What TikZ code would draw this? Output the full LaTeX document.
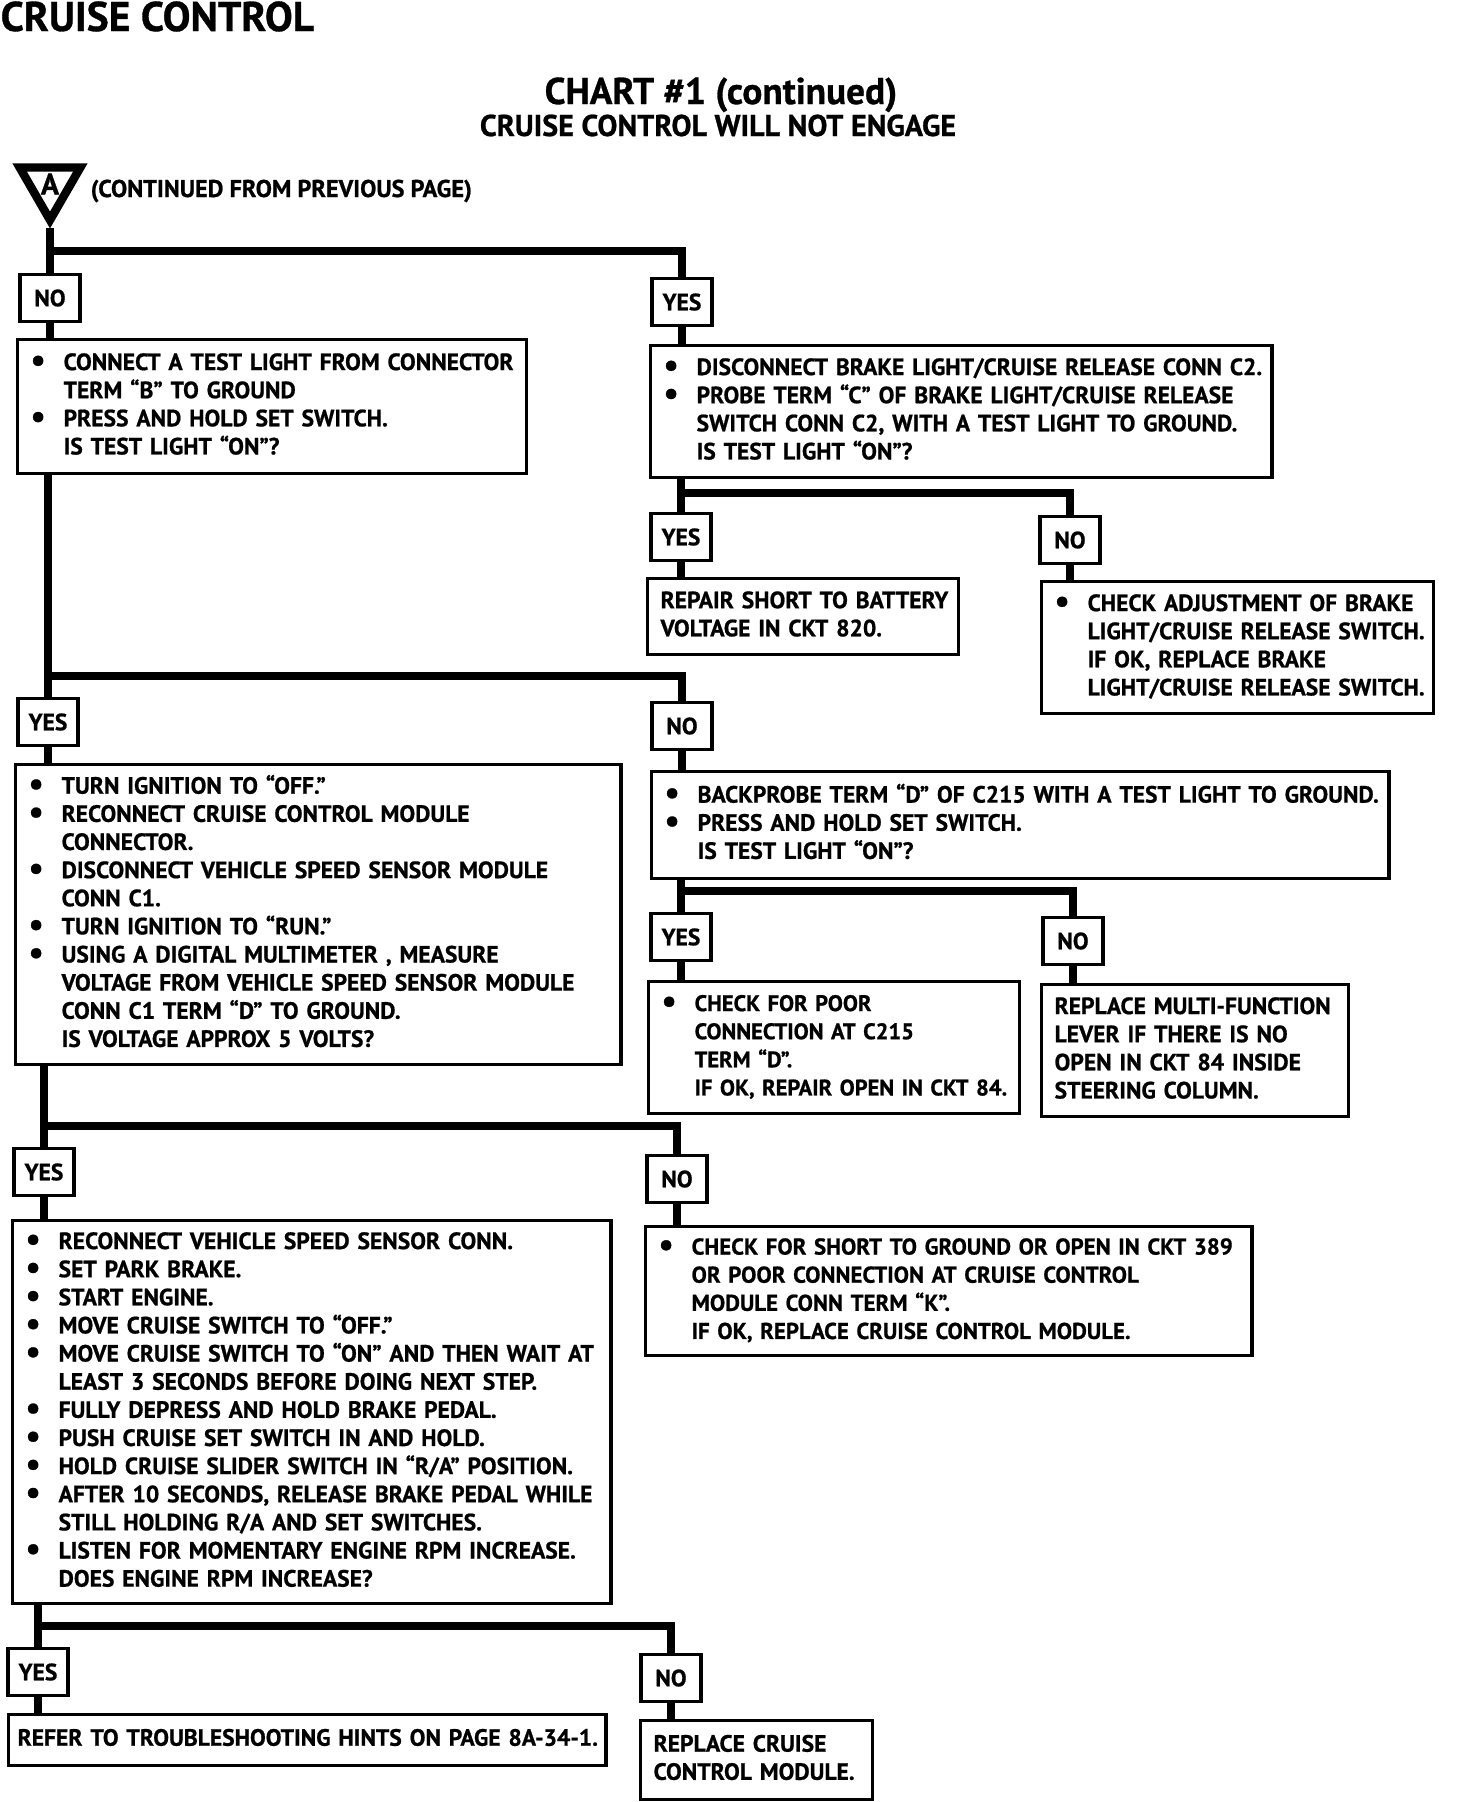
\documentclass[tikz,border=0pt]{standalone}
\usepackage{fontspec}
\setmainfont{PT Sans}[BoldFeatures={FakeBold=0.8}]
\usetikzlibrary{shapes.geometric}

\newcommand{\bul}{\raisebox{-0.1ex}{\fontsize{9.5}{8}\selectfont\textbullet}}
\newcommand{\steps}[1]{\noindent\begin{tabular}{@{}p{0.33cm}@{}l@{}}#1\end{tabular}}
\newcommand{\lines}[1]{\noindent\begin{tabular}{@{}l@{}}#1\end{tabular}}

\begin{document}
\begin{tikzpicture}[x=0.01cm,y=-0.01cm,
  every node/.style={font=\bfseries\fontsize{6.7}{8}\selectfont},
  chk/.style n args={2}{draw,line width=0.9pt,anchor=north west,inner xsep=0.13cm,inner ysep=0pt,align=left,text width=#1,minimum height=#2},
  ans/.style={draw,line width=0.9pt,minimum width=0.6cm,minimum height=0.47cm,inner sep=1pt},
  flow/.style={line width=2.2pt},
  head/.style={inner sep=0pt}]
  \useasboundingbox (0,0) rectangle (1456,1802);

  % headings
  \node[head,anchor=base west,font=\bfseries\fontsize{11.8}{12}\selectfont] (sect) at (0,31) {CRUISE CONTROL};
  \node[head,anchor=base,font=\bfseries\fontsize{10.6}{12}\selectfont] (chart) at (721,104) {CHART \#1 (continued)};
  \node[head,anchor=base,font=\bfseries\fontsize{8.55}{10}\selectfont] (chartsub) at (718,136) {CRUISE CONTROL WILL NOT ENGAGE};

  % entry marker
  \node[regular polygon,regular polygon sides=3,shape border rotate=180,draw,line width=2.4pt,minimum size=0.7cm,inner sep=0pt] (entry) at (50,185) {};
  \node[head,font=\bfseries\fontsize{8.5}{8}\selectfont] (entrylbl) at (50,184) {A};
  \node[head,anchor=base west,font=\bfseries\fontsize{6.9}{8}\selectfont] (cont) at (90,197) {(CONTINUED FROM PREVIOUS PAGE)};

  % answer labels
  \node[ans] (no1) at (50,298) {NO};
  \node[ans] (yes1) at (682,302) {YES};
  \node[ans] (yes1a) at (681,537) {YES};
  \node[ans] (no1a) at (1070,540) {NO};
  \node[ans] (yes2) at (48,722) {YES};
  \node[ans] (no2) at (682,726) {NO};
  \node[ans] (yes2a) at (681,937) {YES};
  \node[ans] (no2a) at (1073,941) {NO};
  \node[ans] (yes3) at (44,1172) {YES};
  \node[ans] (no3) at (677,1179) {NO};
  \node[ans] (yes4) at (38,1672) {YES};
  \node[ans] (no4) at (671,1678) {NO};

  % test and repair boxes
  \node[chk={4.83cm}{1.34cm}] (check1) at (16,338) {\steps{\bul & CONNECT A TEST LIGHT FROM CONNECTOR\\ & TERM “B” TO GROUND\\ \bul & PRESS AND HOLD SET SWITCH.\\ & IS TEST LIGHT “ON”?}};
  \node[chk={5.95cm}{1.32cm}] (check2) at (649,344) {\steps{\bul & DISCONNECT BRAKE LIGHT/CRUISE RELEASE CONN C2.\\ \bul & PROBE TERM “C” OF BRAKE LIGHT/CRUISE RELEASE\\ & SWITCH CONN C2, WITH A TEST LIGHT TO GROUND.\\ & IS TEST LIGHT “ON”?}};
  \node[chk={2.85cm}{0.76cm}] (repair) at (646,577) {\lines{REPAIR SHORT TO BATTERY\\ VOLTAGE IN CKT 820.}};
  \node[chk={3.66cm}{1.32cm}] (adjust) at (1040,580) {\steps{\bul & CHECK ADJUSTMENT OF BRAKE\\ & LIGHT/CRUISE RELEASE SWITCH.\\ & IF OK, REPLACE BRAKE\\ & LIGHT/CRUISE RELEASE SWITCH.}};
  \node[chk={5.79cm}{3.00cm}] (check3) at (14,763) {\steps{\bul & TURN IGNITION TO “OFF.”\\ \bul & RECONNECT CRUISE CONTROL MODULE\\ & CONNECTOR.\\ \bul & DISCONNECT VEHICLE SPEED SENSOR MODULE\\ & CONN C1.\\ \bul & TURN IGNITION TO “RUN.”\\ \bul & USING A DIGITAL MULTIMETER , MEASURE\\ & VOLTAGE FROM VEHICLE SPEED SENSOR MODULE\\ & CONN C1 TERM “D” TO GROUND.\\ & IS VOLTAGE APPROX 5 VOLTS?}};
  \node[chk={7.11cm}{1.07cm}] (check4) at (650,770) {\steps{\bul & BACKPROBE TERM “D” OF C215 WITH A TEST LIGHT TO GROUND.\\ \bul & PRESS AND HOLD SET SWITCH.\\ & IS TEST LIGHT “ON”?}};
  \node[chk={3.45cm}{1.32cm},font=\bfseries\fontsize{6.4}{8}\selectfont] (poor) at (647,980) {\steps{\bul & CHECK FOR POOR\\ & CONNECTION AT C215\\ & TERM “D”.\\ & IF OK, REPAIR OPEN IN CKT 84.}};
  \node[chk={2.81cm}{1.32cm}] (lever) at (1040,983) {\lines{REPLACE MULTI-FUNCTION\\ LEVER IF THERE IS NO\\ OPEN IN CKT 84 INSIDE\\ STEERING COLUMN.}};
  \node[chk={5.72cm}{3.83cm}] (check5) at (11,1219) {\steps{\bul & RECONNECT VEHICLE SPEED SENSOR CONN.\\ \bul & SET PARK BRAKE.\\ \bul & START ENGINE.\\ \bul & MOVE CRUISE SWITCH TO “OFF.”\\ \bul & MOVE CRUISE SWITCH TO “ON” AND THEN WAIT AT\\ & LEAST 3 SECONDS BEFORE DOING NEXT STEP.\\ \bul & FULLY DEPRESS AND HOLD BRAKE PEDAL.\\ \bul & PUSH CRUISE SET SWITCH IN AND HOLD.\\ \bul & HOLD CRUISE SLIDER SWITCH IN “R/A” POSITION.\\ \bul & AFTER 10 SECONDS, RELEASE BRAKE PEDAL WHILE\\ & STILL HOLDING R/A AND SET SWITCHES.\\ \bul & LISTEN FOR MOMENTARY ENGINE RPM INCREASE.\\ & DOES ENGINE RPM INCREASE?}};
  \node[chk={5.80cm}{1.29cm},font=\bfseries\fontsize{6.5}{8}\selectfont] (short) at (644,1225) {\steps{\bul & CHECK FOR SHORT TO GROUND OR OPEN IN CKT 389\\ & OR POOR CONNECTION AT CRUISE CONTROL\\ & MODULE CONN TERM “K”.\\ & IF OK, REPLACE CRUISE CONTROL MODULE.}};
  \node[chk={5.79cm}{0.51cm},inner xsep=0.09cm] (hints) at (7,1713) {\lines{REFER TO TROUBLESHOOTING HINTS ON PAGE 8A-34-1.}};
  \node[chk={2.06cm}{0.79cm}] (module) at (639,1719) {\lines{REPLACE CRUISE\\ CONTROL MODULE.}};

  % junctions
  \coordinate (j1) at (50,251);
  \coordinate (j1a) at (681,493);
  \coordinate (j2) at (48,676);
  \coordinate (j2a) at (681,891);
  \coordinate (j3) at (44,1126);
  \coordinate (j4) at (38,1626);

  % connectors
  \draw[flow] (entry.south) -- (no1.north);
  \draw[flow] (j1) -| (yes1.north);
  \draw[flow] (no1.south) -- (no1.south |- check1.north);
  \draw[flow] (yes1.south) -- (yes1.south |- check2.north);
  \draw[flow] (check2.south -| yes1a) -- (yes1a.north);
  \draw[flow] (j1a) -| (no1a.north);
  \draw[flow] (yes1a.south) -- (yes1a.south |- repair.north);
  \draw[flow] (no1a.south) -- (no1a.south |- adjust.north);
  \draw[flow] (check1.south -| yes2) -- (yes2.north);
  \draw[flow] (j2) -| (no2.north);
  \draw[flow] (yes2.south) -- (yes2.south |- check3.north);
  \draw[flow] (no2.south) -- (no2.south |- check4.north);
  \draw[flow] (check4.south -| yes2a) -- (yes2a.north);
  \draw[flow] (j2a) -| (no2a.north);
  \draw[flow] (yes2a.south) -- (yes2a.south |- poor.north);
  \draw[flow] (no2a.south) -- (no2a.south |- lever.north);
  \draw[flow] (check3.south -| yes3) -- (yes3.north);
  \draw[flow] (j3) -| (no3.north);
  \draw[flow] (yes3.south) -- (yes3.south |- check5.north);
  \draw[flow] (no3.south) -- (no3.south |- short.north);
  \draw[flow] (check5.south -| yes4) -- (yes4.north);
  \draw[flow] (j4) -| (no4.north);
  \draw[flow] (yes4.south) -- (yes4.south |- hints.north);
  \draw[flow] (no4.south) -- (no4.south |- module.north);
\end{tikzpicture}
\end{document}
